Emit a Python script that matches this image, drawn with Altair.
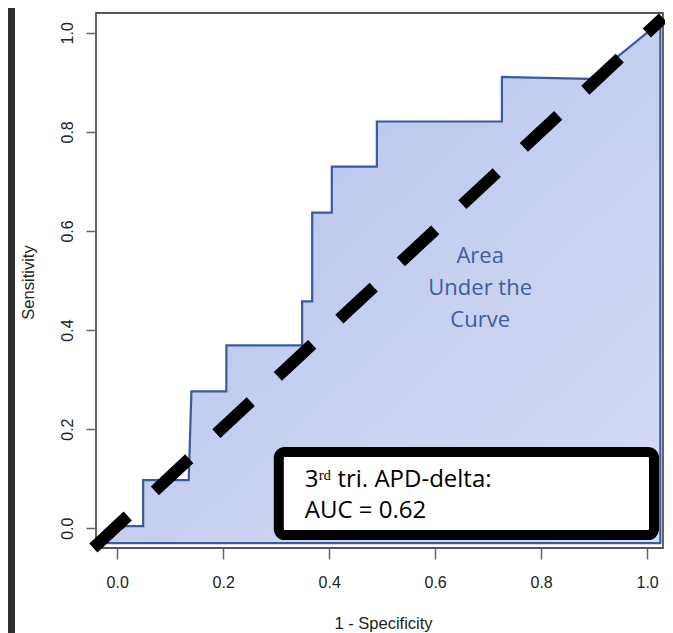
import altair as alt
import pandas as pd

# ROC curve points (1 - specificity, sensitivity)
fpr = [-0.035, 0.015, 0.049, 0.049, 0.135, 0.140, 0.206, 0.206, 0.349, 0.349,
       0.368, 0.368, 0.405, 0.405, 0.490, 0.490, 0.726, 0.726, 0.893, 1.025]
tpr = [-0.030, 0.004, 0.004, 0.097, 0.097, 0.276, 0.276, 0.369, 0.369, 0.458,
       0.458, 0.637, 0.637, 0.730, 0.730, 0.821, 0.821, 0.911, 0.907, 1.022]
area_floor = -0.03

diag_x = [-0.045, 1.03]
diag_y = [-0.040, 1.03]

tick_values = [0.0, 0.2, 0.4, 0.6, 0.8, 1.0]

area_text = ["Area", "Under the", "Curve"]
area_text_y = [0.535, 0.471, 0.406]
area_text_x = [0.685, 0.685, 0.685]

box_x = [0.305]
box_x2 = [1.013]
box_y = [0.154]
box_y2 = [-0.014]

auc_line1 = ["3\u02b3\u1d48 tri. APD-delta:"]
auc_line2 = ["AUC = 0.62"]
auc_text_x = [0.354]
auc_text_y = [0.083]

roc = pd.DataFrame({"fpr": fpr, "tpr": tpr, "floor": [area_floor] * len(fpr)})
diag = pd.DataFrame({"x": diag_x, "y": diag_y})
lbl = pd.DataFrame({"t": area_text, "x": area_text_x, "y": area_text_y})
box = pd.DataFrame({"x": box_x, "x2": box_x2, "y": box_y, "y2": box_y2})
auc = pd.DataFrame({"x": auc_text_x, "y": auc_text_y, "l1": auc_line1, "l2": auc_line2})

xs = alt.Scale(domain=[-0.04, 1.03], nice=False, zero=False)
ys = alt.Scale(domain=[-0.04, 1.04], nice=False, zero=False)

FONT = "Liberation Sans"
TXT = "Open Sans"

x_axis = alt.Axis(values=tick_values, format=".1f", domain=False, grid=False,
                  tickSize=11, tickColor="#666666", tickWidth=1.5,
                  labelFont=FONT, labelFontSize=16, labelColor="#222222",
                  labelBaseline="alphabetic", labelPadding=28,
                  title="1 - Specificity", titleFont=FONT, titleFontSize=16.5,
                  titleFontWeight="normal", titleColor="#222222",
                  titleX=287, titleY=80, titleAlign="center", titleBaseline="alphabetic")
y_axis = alt.Axis(values=tick_values, format=".1f", domain=False, grid=False,
                  tickSize=10, tickColor="#666666", tickWidth=1.5,
                  labelFont=FONT, labelFontSize=16, labelColor="#222222",
                  labelAngle=270, labelAlign="center", labelBaseline="alphabetic",
                  labelPadding=14,
                  title="Sensitivity", titleFont=FONT, titleFontSize=16.5,
                  titleFontWeight="normal", titleColor="#222222",
                  titleX=-63, titleY=269, titleAngle=270, titleAlign="center",
                  titleBaseline="alphabetic")


def X(field):
    return alt.X(field, scale=xs, axis=x_axis)


def Y(field):
    return alt.Y(field, scale=ys, axis=y_axis)


grad = alt.Gradient(gradient="linear",
                    stops=[alt.GradientStop(color="#afbfec", offset=0),
                           alt.GradientStop(color="#d8ddf4", offset=1)],
                    x1=0, y1=0, x2=1, y2=1)

area = alt.Chart(roc).mark_area(fill=grad, stroke="#3b5b9c", strokeWidth=2.2,
                                strokeJoin="miter").encode(
    x=X("fpr:Q"), y=Y("tpr:Q"), y2="floor:Q",
)

dash = alt.Chart(diag).mark_line(color="black", strokeWidth=12, strokeDash=[47, 37],
                                 strokeCap="butt").encode(
    x=X("x:Q"), y=Y("y:Q"),
)

lbl_layer = alt.Chart(lbl).mark_text(font=TXT, fontSize=22, color="#3d5e9e",
                                     align="center", baseline="alphabetic").encode(
    x=X("x:Q"), y=Y("y:Q"), text="t:N",
)

box_layer = alt.Chart(box).mark_rect(fill="white", stroke="black", strokeWidth=10,
                                     cornerRadius=6).encode(
    x=X("x:Q"), x2="x2:Q", y=Y("y:Q"), y2="y2:Q",
)

t1 = alt.Chart(auc).mark_text(font=TXT, fontSize=24, color="black", align="left",
                              baseline="alphabetic").encode(
    x=X("x:Q"), y=Y("y:Q"), text="l1:N")
t2 = alt.Chart(auc).mark_text(font=TXT, fontSize=24, color="black", align="left",
                              baseline="alphabetic", dy=31).encode(
    x=X("x:Q"), y=Y("y:Q"), text="l2:N")

strip = alt.Chart(pd.DataFrame({"k": [0]})).mark_rect(color="#2d2d2d").encode(
    x=alt.value(-88), x2=alt.value(-81), y=alt.value(-5), y2=alt.value(620))

chart = alt.layer(area, dash, lbl_layer, box_layer, t1, t2, strip).properties(
    width=567, height=535,
    autosize=alt.AutoSizeParams(type="none"),
    padding={"left": 88, "top": 5, "right": 2, "bottom": 85},
    background="white",
).configure_view(stroke="#555555", strokeWidth=1.8)

chart.save("out.html", embed_options={"renderer": "svg", "actions": False})
